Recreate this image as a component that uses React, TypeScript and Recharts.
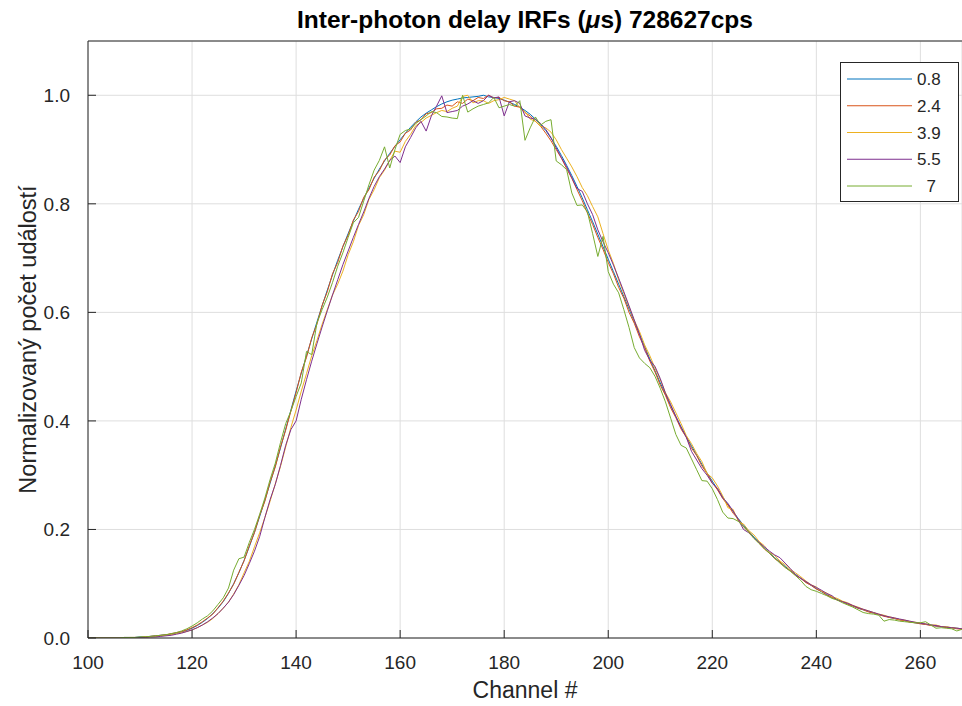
import { CartesianGrid, Legend, Line, LineChart, ReferenceLine, XAxis, YAxis } from "recharts";

// channel numbers 100..268
const CHANNELS = Array.from({ length: 169 }, (_, i) => 100 + i);

const X_TICKS = [100, 120, 140, 160, 180, 200, 220, 240, 260];
const Y_TICKS = [0, 0.2, 0.4, 0.6, 0.8, 1.0];

const S08 = [
  0, 0, 0, 0, 0, 0, 0, 0.001, 0.001, 0.001,
  0.002, 0.002, 0.003, 0.004, 0.005, 0.006, 0.007, 0.009, 0.011, 0.014,
  0.018, 0.023, 0.029, 0.036, 0.045, 0.055, 0.067, 0.082, 0.1, 0.12,
  0.143, 0.168, 0.195, 0.224, 0.254, 0.285, 0.317, 0.35, 0.385, 0.42,
  0.455, 0.488, 0.52, 0.551, 0.582, 0.612, 0.641, 0.669, 0.696, 0.721,
  0.745, 0.768, 0.79, 0.81, 0.829, 0.847, 0.864, 0.879, 0.893, 0.906,
  0.918, 0.93, 0.941, 0.951, 0.96, 0.967, 0.973, 0.979, 0.984, 0.988,
  0.991, 0.993, 0.995, 0.996, 0.997, 0.998, 1.0, 0.997, 0.996, 0.994,
  0.991, 0.987, 0.983, 0.978, 0.972, 0.965, 0.956, 0.946, 0.935, 0.921,
  0.906, 0.889, 0.871, 0.852, 0.832, 0.811, 0.789, 0.767, 0.744, 0.721,
  0.698, 0.675, 0.652, 0.629, 0.606, 0.583, 0.56, 0.537, 0.514, 0.492,
  0.47, 0.449, 0.428, 0.408, 0.389, 0.371, 0.354, 0.337, 0.32, 0.304,
  0.289, 0.274, 0.26, 0.246, 0.233, 0.22, 0.208, 0.197, 0.186, 0.176,
  0.166, 0.157, 0.148, 0.14, 0.132, 0.124, 0.117, 0.11, 0.103, 0.097,
  0.091, 0.085, 0.08, 0.075, 0.071, 0.067, 0.063, 0.059, 0.055, 0.052,
  0.049, 0.046, 0.043, 0.041, 0.038, 0.036, 0.034, 0.032, 0.03, 0.028,
  0.027, 0.025, 0.024, 0.022, 0.021, 0.02, 0.019, 0.018, 0.017,
];

const S24 = [
  0, 0, 0, 0, 0, 0, 0, 0.001, 0.001, 0.001,
  0.001, 0.002, 0.003, 0.004, 0.005, 0.006, 0.008, 0.01, 0.012, 0.015,
  0.019, 0.024, 0.03, 0.037, 0.044, 0.056, 0.068, 0.083, 0.099, 0.121,
  0.142, 0.17, 0.194, 0.226, 0.252, 0.287, 0.315, 0.352, 0.383, 0.418,
  0.452, 0.49, 0.517, 0.553, 0.578, 0.613, 0.638, 0.671, 0.692, 0.722,
  0.742, 0.77, 0.786, 0.812, 0.826, 0.849, 0.861, 0.881, 0.89, 0.907,
  0.914, 0.93, 0.936, 0.95, 0.955, 0.966, 0.968, 0.975, 0.976, 0.982,
  0.98, 0.988, 0.985, 0.993, 0.99, 0.996, 0.994, 1.0, 0.995, 0.996,
  0.99, 0.988, 0.98, 0.978, 0.968, 0.962, 0.952, 0.943, 0.93, 0.916,
  0.9, 0.884, 0.865, 0.847, 0.826, 0.806, 0.783, 0.762, 0.738, 0.716,
  0.692, 0.671, 0.646, 0.626, 0.6, 0.58, 0.555, 0.535, 0.51, 0.49,
  0.466, 0.447, 0.424, 0.406, 0.385, 0.37, 0.35, 0.336, 0.317, 0.303,
  0.286, 0.273, 0.257, 0.245, 0.23, 0.219, 0.205, 0.196, 0.184, 0.175,
  0.164, 0.156, 0.146, 0.14, 0.13, 0.124, 0.115, 0.11, 0.102, 0.097,
  0.09, 0.086, 0.079, 0.075, 0.07, 0.067, 0.062, 0.059, 0.055, 0.052,
  0.048, 0.046, 0.043, 0.04, 0.038, 0.036, 0.033, 0.032, 0.029, 0.028,
  0.026, 0.025, 0.023, 0.022, 0.021, 0.019, 0.019, 0.017, 0.016,
];

const S39 = [
  0, 0, 0, 0, 0, 0, 0, 0, 0.001, 0.001,
  0.001, 0.002, 0.002, 0.003, 0.004, 0.005, 0.006, 0.008, 0.01, 0.012,
  0.015, 0.019, 0.024, 0.029, 0.036, 0.045, 0.055, 0.066, 0.081, 0.098,
  0.12, 0.141, 0.168, 0.194, 0.222, 0.252, 0.284, 0.316, 0.352, 0.388,
  0.42, 0.455, 0.487, 0.52, 0.548, 0.578, 0.605, 0.632, 0.652, 0.676,
  0.706, 0.73, 0.76, 0.78, 0.808, 0.826, 0.848, 0.862, 0.88, 0.897,
  0.895, 0.915, 0.928, 0.944, 0.95, 0.958, 0.963, 0.968, 0.972, 0.97,
  0.976, 0.98, 0.998, 1.0, 0.986, 0.99, 0.99, 0.985, 0.99, 0.992,
  0.996, 0.993, 0.99, 0.977, 0.97, 0.956, 0.952, 0.943, 0.94, 0.932,
  0.918, 0.9, 0.884, 0.868, 0.85, 0.83, 0.815, 0.795, 0.776, 0.745,
  0.715, 0.69, 0.66, 0.635, 0.61, 0.585, 0.565, 0.54, 0.52, 0.497,
  0.476, 0.452, 0.435, 0.415, 0.395, 0.373, 0.358, 0.34, 0.325, 0.303,
  0.295, 0.28, 0.262, 0.24, 0.237, 0.215, 0.21, 0.198, 0.19, 0.178,
  0.17, 0.158, 0.152, 0.142, 0.135, 0.126, 0.12, 0.113, 0.105, 0.098,
  0.094, 0.086, 0.083, 0.076, 0.073, 0.068, 0.065, 0.06, 0.057, 0.053,
  0.05, 0.047, 0.044, 0.042, 0.039, 0.037, 0.034, 0.033, 0.03, 0.029,
  0.028, 0.026, 0.024, 0.024, 0.021, 0.021, 0.019, 0.018, 0.017,
];

const S55 = [
  0, 0, 0, 0, 0, 0, 0, 0, 0, 0.001,
  0.001, 0.001, 0.002, 0.002, 0.003, 0.004, 0.005, 0.007, 0.009, 0.012,
  0.015, 0.019, 0.024, 0.03, 0.037, 0.045, 0.055, 0.066, 0.08, 0.097,
  0.115, 0.137, 0.16, 0.187, 0.222, 0.255, 0.283, 0.318, 0.355, 0.384,
  0.4, 0.44, 0.476, 0.51, 0.542, 0.573, 0.603, 0.632, 0.66, 0.688,
  0.713, 0.738, 0.762, 0.785, 0.81, 0.832, 0.85, 0.864, 0.88, 0.888,
  0.876, 0.905, 0.922, 0.94, 0.952, 0.934, 0.962, 0.98, 0.999, 0.968,
  0.97, 0.972, 0.98, 0.984, 0.99, 0.985, 0.99, 1.0, 0.995, 0.997,
  0.962, 0.988, 0.99, 0.985, 0.962, 0.958, 0.956, 0.948, 0.937, 0.922,
  0.903, 0.885, 0.868, 0.848, 0.828, 0.823, 0.8, 0.78, 0.752, 0.73,
  0.71, 0.687, 0.663, 0.638, 0.612, 0.586, 0.56, 0.53, 0.512, 0.5,
  0.478, 0.451, 0.43, 0.408, 0.388, 0.37, 0.344, 0.328, 0.312, 0.3,
  0.285, 0.276, 0.258, 0.248, 0.234, 0.218, 0.2, 0.194, 0.184, 0.176,
  0.168, 0.16, 0.153, 0.148, 0.138, 0.128, 0.117, 0.11, 0.104, 0.098,
  0.093, 0.088, 0.082, 0.078, 0.07, 0.067, 0.064, 0.06, 0.056, 0.053,
  0.05, 0.047, 0.044, 0.041, 0.039, 0.037, 0.035, 0.033, 0.031, 0.029,
  0.027, 0.026, 0.024, 0.023, 0.021, 0.02, 0.019, 0.018, 0.017,
];

const S70 = [
  0, 0, 0, 0, 0, 0, 0, 0.001, 0.001, 0.001,
  0.002, 0.002, 0.003, 0.004, 0.005, 0.006, 0.008, 0.01, 0.013, 0.017,
  0.022, 0.028, 0.035, 0.041, 0.05, 0.062, 0.074, 0.092, 0.125, 0.146,
  0.149, 0.176, 0.2, 0.228, 0.258, 0.292, 0.322, 0.36, 0.395, 0.418,
  0.445, 0.47, 0.528, 0.522, 0.58, 0.605, 0.628, 0.655, 0.685, 0.71,
  0.738, 0.765, 0.775, 0.805, 0.835, 0.862, 0.88, 0.905, 0.866, 0.9,
  0.928, 0.935, 0.938, 0.948, 0.955, 0.962, 0.97, 0.968, 0.961, 0.96,
  0.958, 0.957, 1.0, 0.969, 0.975, 0.98, 0.983, 0.986, 0.996, 0.977,
  0.98, 0.983, 0.98, 0.99, 0.917, 0.94, 0.96, 0.945, 0.952, 0.955,
  0.879, 0.872, 0.863, 0.82, 0.797, 0.798, 0.785, 0.745, 0.703, 0.74,
  0.675, 0.652, 0.636, 0.605, 0.572, 0.535, 0.516, 0.506, 0.498, 0.482,
  0.46, 0.435, 0.405, 0.375, 0.355, 0.35, 0.33, 0.31, 0.29, 0.289,
  0.275, 0.255, 0.232, 0.221, 0.22, 0.215, 0.205, 0.195, 0.184, 0.174,
  0.165, 0.156, 0.147, 0.138, 0.13, 0.123, 0.115, 0.106, 0.095, 0.089,
  0.086, 0.082, 0.078, 0.073, 0.07, 0.065, 0.061, 0.057, 0.052, 0.047,
  0.045, 0.044, 0.042, 0.031, 0.034, 0.033, 0.031, 0.03, 0.029, 0.028,
  0.028, 0.03, 0.024, 0.018, 0.019, 0.018, 0.017, 0.013, 0.016,
];

const SERIES = [
  { key: "s08", name: "0.8", color: "#0072BD", values: S08 },
  { key: "s24", name: "2.4", color: "#D95319", values: S24 },
  { key: "s39", name: "3.9", color: "#EDB120", values: S39 },
  { key: "s55", name: "5.5", color: "#7E2F8E", values: S55 },
  { key: "s70", name: "  7", color: "#77AC30", values: S70 },
];

const data = CHANNELS.map((ch, i) => {
  const row: Record<string, number> = { ch };
  SERIES.forEach((s) => (row[s.key] = s.values[i]));
  return row;
});

const FONT = "'Liberation Sans', Arial, Helvetica, sans-serif";
const INK = "#262626";

function XTick({ x, y, payload }: any) {
  return (
    <g>
      <line x1={x} x2={x} y1={y} y2={y - 8} stroke={INK} strokeWidth={1} />
      <text x={x} y={y + 31} textAnchor="middle" fill={INK} fontSize={19} fontFamily={FONT}>
        {payload.value}
      </text>
    </g>
  );
}

function YTick({ x, y, payload }: any) {
  return (
    <g>
      <line x1={x} x2={x + 8} y1={y} y2={y} stroke={INK} strokeWidth={1} />
      <text x={x - 18} y={y + 7} textAnchor="end" fill={INK} fontSize={19} fontFamily={FONT}>
        {Number(payload.value).toFixed(1)}
      </text>
    </g>
  );
}

function YLabel({ viewBox }: any) {
  const cx = 28;
  const cy = viewBox.y + viewBox.height / 2;
  return (
    <text
      x={cx}
      y={cy}
      transform={`rotate(-90, ${cx}, ${cy})`}
      textAnchor="middle"
      dominantBaseline="central"
      fill={INK}
      fontSize={23.5}
      fontFamily={FONT}
    >
      Normalizovaný počet událostí
    </text>
  );
}

function LegendBox() {
  return (
    <div style={{ width: 119, height: 140, border: `1px solid ${INK}`, background: "#fff", boxSizing: "border-box" }}>
      <svg width={117} height={138} style={{ display: "block" }}>
        {SERIES.map((s, i) => (
          <g key={s.key}>
            <line x1={6} x2={71} y1={16 + i * 26.75} y2={16 + i * 26.75} stroke={s.color} strokeWidth={1} />
            <text
              x={76}
              y={16 + i * 26.75 + 6}
              fill={INK}
              fontSize={17}
              fontFamily={FONT}
              style={{ whiteSpace: "pre" }}
            >
              {s.name}
            </text>
          </g>
        ))}
      </svg>
    </div>
  );
}

export default function App() {
  return (
    <div style={{ position: "absolute", left: 0, top: 0, width: 962, height: 706, background: "#fff", fontFamily: FONT }}>
      <div
        style={{
          position: "absolute",
          top: 6,
          left: 88,
          width: 874,
          textAlign: "center",
          fontWeight: "bold",
          fontSize: 24.5,
          color: "#000",
          lineHeight: "28px",
        }}
      >
        Inter-photon delay IRFs (<i>μ</i>s) 728627cps
      </div>
      <LineChart width={962} height={706} data={data} margin={{ top: 41, right: 0, bottom: 0, left: 0 }}>
        <CartesianGrid stroke="#dedede" strokeWidth={1} />
        <XAxis
          dataKey="ch"
          type="number"
          domain={[100, 268]}
          ticks={X_TICKS}
          interval={0}
          allowDataOverflow
          height={68}
          tickSize={0}
          tickMargin={0}
          tickLine={false}
          axisLine={{ stroke: INK, strokeWidth: 1 }}
          tick={<XTick />}
          label={{ value: "Channel #", position: "insideBottom", offset: 8, fill: INK, fontSize: 23, fontFamily: FONT }}
        />
        <YAxis
          type="number"
          domain={[0, 1.1]}
          ticks={Y_TICKS}
          interval={0}
          allowDataOverflow
          width={88}
          tickSize={0}
          tickMargin={0}
          tickLine={false}
          axisLine={{ stroke: INK, strokeWidth: 1 }}
          tick={<YTick />}
          label={<YLabel />}
        />
        <ReferenceLine y={1.1} stroke={INK} strokeWidth={1} />
        {SERIES.map((s) => (
          <Line
            key={s.key}
            dataKey={s.key}
            name={s.name}
            stroke={s.color}
            strokeWidth={1}
            dot={false}
            type="linear"
            isAnimationActive={false}
          />
        ))}
        <Legend
          layout="horizontal"
          verticalAlign="middle"
          align="center"
          wrapperStyle={{ left: 840, top: 62, width: 119 }}
          content={() => <LegendBox />}
        />
      </LineChart>
    </div>
  );
}
